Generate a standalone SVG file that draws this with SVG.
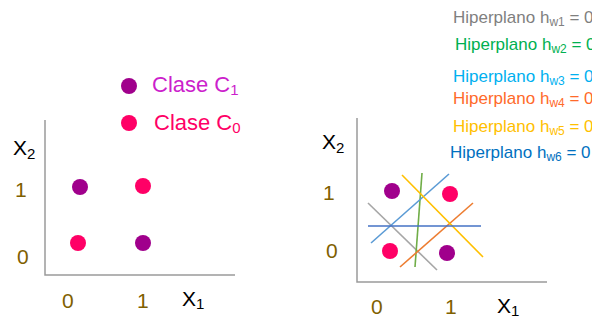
<svg xmlns="http://www.w3.org/2000/svg" width="592" height="320" viewBox="0 0 592 320">
<style>
text{font-family:"Liberation Sans",Arial,sans-serif}
.axis{stroke:#9a9a9a;stroke-width:1.5;fill:none}
.lbl{font-size:21px;fill:#000}
.tick{font-size:21px;fill:#7f6000}
.leg{font-size:17px}
.c1{fill:#a0008c}
.c0{fill:#ff0066}
.hl{stroke-width:1.6;fill:none}
</style>
<rect width="592" height="320" fill="#fff"/>
<g id="legend-classes">
<circle class="c1" cx="129" cy="86" r="8"/>
<text x="152" y="92" font-size="22" fill="#cc1fcc">Clase C<tspan font-size="15" dy="3">1</tspan></text>
<circle class="c0" cx="129" cy="123" r="8"/>
<text x="154" y="130" font-size="22" fill="#ff0066">Clase C<tspan font-size="15" dy="3">0</tspan></text>
</g>
<g id="left-chart">
<path class="axis" d="M45 120 V275 H235"/>
<text class="lbl" x="13" y="155">X<tspan font-size="15" dy="4">2</tspan></text>
<text class="tick" x="15" y="197">1</text>
<text class="tick" x="17" y="264">0</text>
<text class="tick" x="62" y="308">0</text>
<text class="tick" x="137" y="308">1</text>
<text class="lbl" x="182" y="306">X<tspan font-size="15" dy="3">1</tspan></text>
<circle class="c1" cx="80" cy="187" r="8"/>
<circle class="c0" cx="143" cy="186" r="8"/>
<circle class="c0" cx="78" cy="243" r="8"/>
<circle class="c1" cx="143" cy="243" r="8"/>
</g>
<g id="right-chart">
<path class="axis" d="M357 118 V282 H547"/>
<text class="lbl" x="322" y="149">X<tspan font-size="15" dy="4">2</tspan></text>
<text class="tick" x="323" y="200">1</text>
<text class="tick" x="326" y="258">0</text>
<text class="tick" x="371" y="314">0</text>
<text class="tick" x="445" y="314">1</text>
<text class="lbl" x="497" y="313">X<tspan font-size="15" dy="3">1</tspan></text>
<circle class="c1" cx="392" cy="191" r="8"/>
<circle class="c0" cx="450" cy="194" r="8"/>
<circle class="c0" cx="390" cy="251" r="8"/>
<circle class="c1" cx="447" cy="253" r="8"/>
</g>
<g id="hyperplanes">
<line class="hl" stroke="#a6a6a6" x1="368" y1="203" x2="437" y2="270"/>
<line class="hl" stroke="#70ad47" x1="422" y1="173" x2="415" y2="267"/>
<line class="hl" stroke="#5b9bd5" x1="371" y1="243" x2="449" y2="174"/>
<line class="hl" stroke="#ed7d31" x1="400" y1="267" x2="473" y2="203"/>
<line class="hl" stroke="#ffc000" x1="402" y1="175" x2="483" y2="257"/>
<line class="hl" stroke="#4472c4" x1="368" y1="226" x2="481" y2="226"/>
</g>
<g id="legend-hyperplanes" class="leg">
<text x="453" y="23" fill="#7f7f7f">Hiperplano h<tspan font-size="12" dy="3">w1</tspan><tspan dy="-3"> = 0</tspan></text>
<text x="455" y="50" fill="#00b050">Hiperplano h<tspan font-size="12" dy="3">w2</tspan><tspan dy="-3"> = 0</tspan></text>
<text x="453" y="82" fill="#00b0f0">Hiperplano h<tspan font-size="12" dy="3">w3</tspan><tspan dy="-3"> = 0</tspan></text>
<text x="453" y="104" fill="#ff6a2a">Hiperplano h<tspan font-size="12" dy="3">w4</tspan><tspan dy="-3"> = 0</tspan></text>
<text x="453" y="132" fill="#ffc000">Hiperplano h<tspan font-size="12" dy="3">w5</tspan><tspan dy="-3"> = 0</tspan></text>
<text x="450" y="158" fill="#0070c0">Hiperplano h<tspan font-size="12" dy="3">w6</tspan><tspan dy="-3"> = 0</tspan></text>
</g>
</svg>
